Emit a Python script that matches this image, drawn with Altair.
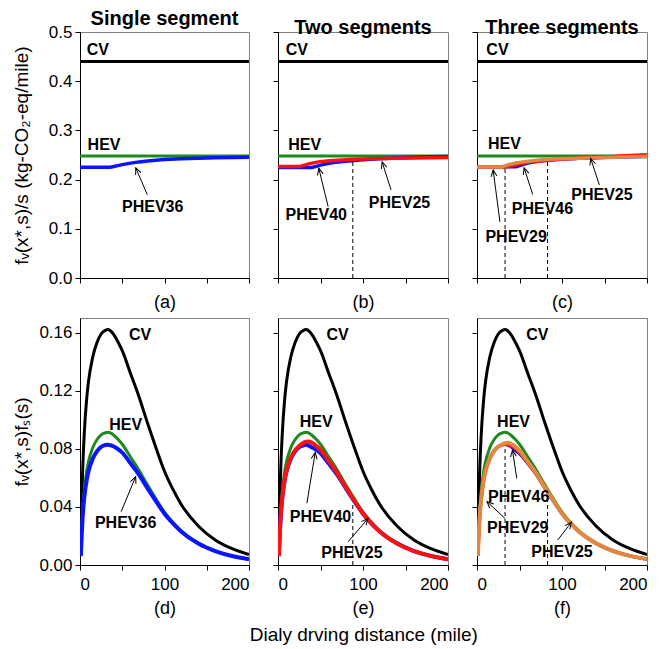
import math
import altair as alt
import pandas as pd

FONT = "Liberation Sans"

# ---------------- data ----------------
# top row: emissions per mile f_V(x*,s)/s
S_TOP = [0, 25, 29, 33, 36, 40, 46, 50, 60, 70, 80, 90, 100, 120, 140, 160, 180, 200]
S_FLAT = [0, 200]
CV_TOP = [0.44, 0.44]
HEV_TOP = [0.248, 0.248]
PHEV36_TOP_A = [0.225, 0.225, 0.225, 0.225, 0.225, 0.2265, 0.229, 0.2305, 0.2335, 0.236,
                0.238, 0.2395, 0.241, 0.2425, 0.2435, 0.2445, 0.245, 0.2455]
PHEV40_TOP_B = [0.2245, 0.2245, 0.2245, 0.2245, 0.2245, 0.2245, 0.2275, 0.2295, 0.233, 0.2355,
                0.2375, 0.239, 0.2405, 0.2425, 0.244, 0.2455, 0.2465, 0.2472]
PHEV25_TOP_B = [0.2265, 0.2265, 0.2285, 0.2305, 0.232, 0.2335, 0.2355, 0.2365, 0.2385, 0.2395,
                0.2405, 0.2415, 0.242, 0.243, 0.2435, 0.244, 0.2445, 0.2448]
BLUE_TOP_C = [0.2256, 0.2256, 0.2256, 0.2256, 0.2256, 0.2256, 0.2256, 0.228, 0.233, 0.236,
              0.2385, 0.2398, 0.241, 0.2428, 0.244, 0.2452, 0.246, 0.2465]
RED_TOP_C = [0.2256, 0.2256, 0.2256, 0.2256, 0.2265, 0.228, 0.2303, 0.2315, 0.235, 0.2372,
             0.239, 0.2405, 0.242, 0.2435, 0.245, 0.247, 0.2488, 0.2505]
ORANGE_TOP_C = [0.2256, 0.2256, 0.2256, 0.228, 0.2297, 0.2315, 0.2338, 0.235, 0.2375, 0.2395,
                0.241, 0.2418, 0.2425, 0.2435, 0.2445, 0.2455, 0.2465, 0.2475]

# bottom row: f_V(x*,s) f_S(s)
S_BOT = [1, 2, 3, 5, 8, 10, 15, 20, 25, 30, 33, 36, 40, 45, 50, 60, 70, 80, 90, 100,
         110, 120, 140, 160, 180, 200]
CV_BOT = [0.012, 0.040, 0.062, 0.090, 0.115, 0.126, 0.143, 0.153, 0.159, 0.1615, 0.162, 0.1612,
          0.1585, 0.1535, 0.1475, 0.1315, 0.1155, 0.0975, 0.0805, 0.0645, 0.0520, 0.0415,
          0.0268, 0.0172, 0.0112, 0.0072]
HEV_BOT = [0.0068, 0.0225, 0.0349, 0.0507, 0.0648, 0.0710, 0.0806, 0.0862, 0.0896, 0.0910,
           0.0913, 0.0909, 0.0893, 0.0865, 0.0831, 0.0741, 0.0651, 0.0550, 0.0454, 0.0364,
           0.0293, 0.0234, 0.0151, 0.0097, 0.0063, 0.0041]
PHEV36_BOT_D = [0.0061, 0.0205, 0.0317, 0.0460, 0.0588, 0.0644, 0.0731, 0.0782, 0.0813, 0.0826,
                0.0828, 0.0824, 0.0816, 0.0797, 0.0773, 0.0698, 0.0620, 0.0527, 0.0438, 0.0353,
                0.0286, 0.0229, 0.0148, 0.0096, 0.0062, 0.0040]
PHEV40_BOT_E = [0.0061, 0.0204, 0.0316, 0.0459, 0.0587, 0.0643, 0.0730, 0.0781, 0.0811, 0.0824,
                0.0827, 0.0822, 0.0809, 0.0792, 0.0769, 0.0696, 0.0618, 0.0526, 0.0437, 0.0353,
                0.0285, 0.0229, 0.0149, 0.0096, 0.0063, 0.0040]
PHEV25_BOT_E = [0.0062, 0.0206, 0.0319, 0.0463, 0.0592, 0.0649, 0.0736, 0.0788, 0.0819, 0.0841,
                0.0849, 0.0850, 0.0841, 0.0820, 0.0793, 0.0713, 0.0629, 0.0533, 0.0442, 0.0355,
                0.0287, 0.0229, 0.0148, 0.0095, 0.0062, 0.0040]
BLUE_BOT_F = [0.0062, 0.0205, 0.0318, 0.0461, 0.0590, 0.0646, 0.0733, 0.0784, 0.0815, 0.0828,
              0.0831, 0.0826, 0.0813, 0.0787, 0.0764, 0.0696, 0.0620, 0.0528, 0.0439, 0.0353,
              0.0286, 0.0229, 0.0149, 0.0096, 0.0063, 0.0040]
RED_BOT_F = [0.0062, 0.0205, 0.0318, 0.0461, 0.0590, 0.0646, 0.0733, 0.0784, 0.0815, 0.0828,
             0.0831, 0.0830, 0.0821, 0.0802, 0.0776, 0.0702, 0.0623, 0.0530, 0.0440, 0.0355,
             0.0287, 0.0230, 0.0149, 0.0097, 0.0063, 0.0041]
ORANGE_BOT_F = [0.0062, 0.0205, 0.0318, 0.0461, 0.0590, 0.0646, 0.0733, 0.0784, 0.0815, 0.0830,
                0.0839, 0.0841, 0.0834, 0.0815, 0.0788, 0.0710, 0.0629, 0.0534, 0.0442, 0.0355,
                0.0287, 0.0230, 0.0149, 0.0096, 0.0063, 0.0041]

# segment boundaries (dashed lines): distance and top of the dashed line
DASH_B = [(88, 0.241)]
DASH_C = [(33, 0.228), (83, 0.241)]
DASH_E = [(88, 0.045)]
DASH_F = [(33, 0.084), (83, 0.0505)]

COL_TITLES = ["Single segment", "Two segments", "Three segments"]
PANEL_LABELS = ["(a)", "(b)", "(c)", "(d)", "(e)", "(f)"]
X_TICKS = [0, 50, 100, 150, 200]
Y_TICKS_TOP = [0.0, 0.1, 0.2, 0.3, 0.4, 0.5]
Y_TICKS_BOT = [0.0, 0.04, 0.08, 0.12, 0.16]

# annotations: (label, s, v, align)
TEXT_A = [("CV", 8, 0.464, "left"), ("HEV", 9, 0.270, "left"), ("PHEV36", 86, 0.145, "center")]
TEXT_B = [("CV", 9, 0.464, "left"), ("HEV", 12, 0.270, "left"),
          ("PHEV40", 45, 0.128, "center"), ("PHEV25", 143, 0.152, "center")]
TEXT_C = [("CV", 11, 0.464, "left"), ("HEV", 13, 0.272, "left"), ("PHEV29", 46, 0.084, "center"),
          ("PHEV46", 77, 0.140, "center"), ("PHEV25", 147, 0.169, "center")]
TEXT_D = [("CV", 71, 0.158, "center"), ("HEV", 54, 0.0964, "center"), ("PHEV36", 54, 0.0287, "center")]
TEXT_E = [("CV", 70, 0.158, "center"), ("HEV", 45, 0.0987, "center"),
          ("PHEV40", 50, 0.0333, "center"), ("PHEV25", 87, 0.008, "center")]
TEXT_F = [("CV", 71, 0.158, "center"), ("HEV", 43, 0.0987, "center"), ("PHEV46", 49, 0.047, "center"),
          ("PHEV29", 48, 0.0253, "center"), ("PHEV25", 100, 0.0092, "center")]

# arrows: (tail s, tail v, tip s, tip v)
ARROW_A = [(79.7, 0.169, 66, 0.224)]
ARROW_B = [(59, 0.145, 48, 0.223), (133, 0.179, 122.5, 0.236)]
ARROW_C = [(27, 0.114, 19, 0.2195), (65.5, 0.170, 55.4, 0.224), (144, 0.189, 133.7, 0.243)]
ARROW_D = [(48.7, 0.0367, 65.9, 0.0608)]
ARROW_E = [(34, 0.0425, 43.8, 0.0774), (82.6, 0.016, 105.8, 0.032)]
ARROW_F = [(46.8, 0.0597, 41.7, 0.079), (33, 0.032, 11.7, 0.0436), (95, 0.0172, 111, 0.0294)]

GREEN = "#1e8a1e"
BLUE = "#0a14ff"
RED = "#ff1010"
ORANGE = "#e0893e"
HEAD = "M -0.45 1 L 0 0 L 0.45 1"


def make_panel(width, height, ymax, yticks, yfmt, ytitle, xtitle, xlabels,
               lines, texts, arrows, dashes, interp, coltitle=None):
    xaxis = alt.Axis(values=X_TICKS, labels=xlabels,
                     labelExpr="datum.value % 100 === 0 ? datum.label : ''",
                     title=xtitle, titleFontSize=18, titleFontWeight="normal",
                     titlePadding=10 if not xlabels else 7, labelPadding=6)
    if ytitle:
        yaxis = alt.Axis(values=yticks, format=yfmt, title=ytitle, titleFontSize=19,
                         titleFontWeight="normal", titleX=-49, labelPadding=3)
    else:
        yaxis = alt.Axis(values=yticks, labels=False, title=None)
    X = alt.X("s:Q", scale=alt.Scale(domain=[0, 200], nice=False), axis=xaxis)
    Y = alt.Y("v:Q", scale=alt.Scale(domain=[0, ymax], nice=False), axis=yaxis)

    layers = []
    if dashes:
        ddf = pd.DataFrame({"s": [d[0] for d in dashes], "v": [0.0] * len(dashes),
                            "v2": [d[1] for d in dashes]})
        layers.append(alt.Chart(ddf).mark_rule(color="black", strokeWidth=1, strokeDash=[4, 3])
                      .encode(x=X, y=Y, y2="v2:Q"))
    for svals, vvals, color, w in lines:
        df = pd.DataFrame({"s": svals, "v": vvals})
        layers.append(alt.Chart(df).mark_line(color=color, strokeWidth=w, interpolate=interp,
                                              clip=True).encode(x=X, y=Y))
    for align in ["left", "center"]:
        sub = [t for t in texts if t[3] == align]
        if sub:
            tdf = pd.DataFrame({"label": [t[0] for t in sub], "s": [t[1] for t in sub],
                                "v": [t[2] for t in sub]})
            layers.append(alt.Chart(tdf).mark_text(font=FONT, fontSize=16, fontWeight="bold",
                                                   align=align, baseline="middle", color="black")
                          .encode(x=X, y=Y, text="label:N"))
    if arrows:
        rows, heads = [], []
        for s0, v0, s1, v1 in arrows:
            dx = (s1 - s0) * width / 200.0
            dy = -(v1 - v0) * height / ymax
            ang = math.degrees(math.atan2(dx, -dy)) % 360
            rows.append({"s": s0, "v": v0, "s2": s1, "v2": v1})
            heads.append({"s": s1, "v": v1, "ang": ang})
        adf = pd.DataFrame(rows)
        hdf = pd.DataFrame(heads)
        layers.append(alt.Chart(adf).mark_rule(color="black", strokeWidth=1)
                      .encode(x=X, y=Y, x2="s2:Q", y2="v2:Q"))
        layers.append(alt.Chart(hdf).mark_point(shape=HEAD, filled=False, color="black",
                                                strokeWidth=1, size=170, opacity=1)
                      .encode(x=X, y=Y, angle=alt.Angle("ang:Q", scale=None)))
    ch = alt.layer(*layers).properties(width=width, height=height)
    if coltitle:
        ch = ch.properties(title=alt.TitleParams(text=coltitle, fontSize=20, fontWeight="bold",
                                                 font=FONT, anchor="middle", offset=-6))
    return ch


W = [169, 170, 170]
HT, HB = 246, 247
YT = "fᵥ(x*,s)/s (kg-CO₂-eq/mile)"
YB = "fᵥ(x*,s)fₛ(s)"

a = make_panel(W[0], HT, 0.5, Y_TICKS_TOP, ".1f", YT, PANEL_LABELS[0], False,
               [(S_FLAT, CV_TOP, "black", 3), (S_FLAT, HEV_TOP, GREEN, 3),
                (S_TOP, PHEV36_TOP_A, BLUE, 3.5)],
               TEXT_A, ARROW_A, [], "linear", COL_TITLES[0])
b = make_panel(W[1], HT, 0.5, Y_TICKS_TOP, ".1f", None, PANEL_LABELS[1], False,
               [(S_FLAT, CV_TOP, "black", 3), (S_FLAT, HEV_TOP, GREEN, 3),
                (S_TOP, PHEV40_TOP_B, BLUE, 3.5), (S_TOP, PHEV25_TOP_B, RED, 3.5)],
               TEXT_B, ARROW_B, DASH_B, "linear", COL_TITLES[1])
c = make_panel(W[2], HT, 0.5, Y_TICKS_TOP, ".1f", None, PANEL_LABELS[2], False,
               [(S_FLAT, CV_TOP, "black", 3), (S_FLAT, HEV_TOP, GREEN, 3),
                (S_TOP, BLUE_TOP_C, BLUE, 3), (S_TOP, RED_TOP_C, RED, 3.5),
                (S_TOP, ORANGE_TOP_C, ORANGE, 3.5)],
               TEXT_C, ARROW_C, DASH_C, "linear", COL_TITLES[2])
d = make_panel(W[0], HB, 0.17, Y_TICKS_BOT, ".2f", YB, PANEL_LABELS[3], True,
               [(S_BOT, CV_BOT, "black", 3), (S_BOT, HEV_BOT, GREEN, 3),
                (S_BOT, PHEV36_BOT_D, BLUE, 4)],
               TEXT_D, ARROW_D, [], "monotone")
e = make_panel(W[1], HB, 0.17, Y_TICKS_BOT, ".2f", None, PANEL_LABELS[4], True,
               [(S_BOT, CV_BOT, "black", 3), (S_BOT, HEV_BOT, GREEN, 3),
                (S_BOT, PHEV40_BOT_E, BLUE, 4), (S_BOT, PHEV25_BOT_E, RED, 4)],
               TEXT_E, ARROW_E, DASH_E, "monotone")
f = make_panel(W[2], HB, 0.17, Y_TICKS_BOT, ".2f", None, PANEL_LABELS[5], True,
               [(S_BOT, CV_BOT, "black", 3), (S_BOT, HEV_BOT, GREEN, 3),
                (S_BOT, BLUE_BOT_F, BLUE, 3), (S_BOT, RED_BOT_F, RED, 3.5),
                (S_BOT, ORANGE_BOT_F, ORANGE, 4)],
               TEXT_F, ARROW_F, DASH_F, "monotone")

top = alt.hconcat(a, b, c, spacing=22)
bottom = alt.hconcat(d, e, f, spacing=22)
chart = alt.vconcat(top, bottom, spacing=5).properties(
    title=alt.TitleParams(text="Dialy drving distance (mile)", orient="bottom", anchor="middle",
                          fontSize=19, fontWeight="normal", font=FONT, offset=8, dx=34),
    padding={"left": 3, "right": 5, "top": 0, "bottom": 2},
).configure_axis(
    domainColor="black", tickColor="black", labelColor="black", titleColor="black",
    labelFont=FONT, titleFont=FONT, labelFontSize=17, grid=False, tickSize=5,
    domainWidth=1, tickWidth=1,
).configure_view(stroke="#808080", strokeWidth=1).configure_title(color="black")

chart.save("out.html", embed_options={"renderer": "svg", "actions": False})
